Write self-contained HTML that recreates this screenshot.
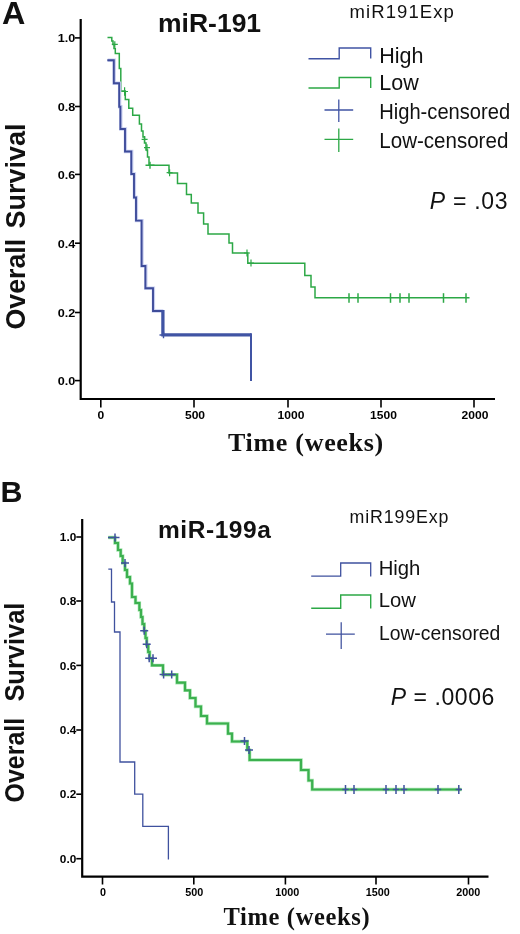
<!DOCTYPE html>
<html><head><meta charset="utf-8"><title>Survival</title>
<style>
html,body{margin:0;padding:0;background:#fff;}
body{width:520px;height:934px;overflow:hidden;font-family:"Liberation Sans",sans-serif;}
svg{display:block;will-change:transform;transform:translateZ(0);}
text{font-family:"Liberation Sans",sans-serif;fill:#111}
.serif{font-family:"Liberation Serif",serif;font-weight:bold}
.b{font-weight:bold}
.tk{font-weight:bold;fill:#000}
</style></head><body>
<svg width="520" height="934" viewBox="0 0 520 934">
<rect width="520" height="934" fill="#fff"/>

<g id="panelA">
<text transform="translate(1.9,24.3) scale(1.06,1)" class="b" font-size="30.5">A</text>
<text x="158" y="32" class="b" font-size="26.5">miR-191</text>
<text x="349.6" y="18.1" font-size="18.5" textLength="104.3" lengthAdjust="spacing">miR191Exp</text>
<path d="M308.5,58.7H339.2V48H370.7V58.5" stroke="#4054a4" stroke-width="1.4" fill="none"/>
<path d="M308.5,88H339.2V77.5H370.7V88" stroke="#2ca846" stroke-width="1.4" fill="none"/>
<path d="M324.5,110H353.2M338.8,99.5V122" stroke="#4054a4" stroke-width="1.3" fill="none"/>
<path d="M324.5,139.3H353.2M338.8,128.5V152" stroke="#2ca846" stroke-width="1.3" fill="none"/>
<text x="379.2" y="62.5" font-size="21.5">High</text>
<text x="379.3" y="90.4" font-size="21.5">Low</text>
<text x="379.2" y="119.3" font-size="21.5" textLength="131" lengthAdjust="spacingAndGlyphs">High-censored</text>
<text x="379.3" y="147.9" font-size="21.5" textLength="129" lengthAdjust="spacingAndGlyphs">Low-censored</text>
<text x="429.8" y="208.6" font-size="23" textLength="77.8" lengthAdjust="spacing"><tspan font-style="italic">P</tspan> = .03</text>
<text transform="translate(24.7,329.4) rotate(-90)" class="b" font-size="28.5" textLength="90.5" lengthAdjust="spacingAndGlyphs">Overall</text>
<text transform="translate(24.7,228.6) rotate(-90)" class="b" font-size="28.5" textLength="105" lengthAdjust="spacingAndGlyphs">Survival</text>
<path d="M80.7,19V399H495" stroke="#000" stroke-width="2.2" fill="none"/>
<path d="M75,37.9H80" stroke="#000" stroke-width="1.6"/>
<text transform="translate(75.4,42.3) scale(1.17,1)" text-anchor="end" class="tk" font-size="10.8">1.0</text>
<path d="M75,106.5H80" stroke="#000" stroke-width="1.6"/>
<text transform="translate(75.4,110.9) scale(1.17,1)" text-anchor="end" class="tk" font-size="10.8">0.8</text>
<path d="M75,174.4H80" stroke="#000" stroke-width="1.6"/>
<text transform="translate(75.4,178.8) scale(1.17,1)" text-anchor="end" class="tk" font-size="10.8">0.6</text>
<path d="M75,243.2H80" stroke="#000" stroke-width="1.6"/>
<text transform="translate(75.4,247.6) scale(1.17,1)" text-anchor="end" class="tk" font-size="10.8">0.4</text>
<path d="M75,312.5H80" stroke="#000" stroke-width="1.6"/>
<text transform="translate(75.4,316.9) scale(1.17,1)" text-anchor="end" class="tk" font-size="10.8">0.2</text>
<path d="M75,380.6H80" stroke="#000" stroke-width="1.6"/>
<text transform="translate(75.4,385.0) scale(1.17,1)" text-anchor="end" class="tk" font-size="10.8">0.0</text>
<path d="M100.8,399V407.5" stroke="#000" stroke-width="1.6"/>
<text transform="translate(100.8,419.2) scale(1.08,1)" text-anchor="middle" class="tk" font-size="11.2">0</text>
<path d="M194,399V407.5" stroke="#000" stroke-width="1.6"/>
<text transform="translate(195,419.2) scale(1.08,1)" text-anchor="middle" class="tk" font-size="11.2">500</text>
<path d="M288,399V407.5" stroke="#000" stroke-width="1.6"/>
<text transform="translate(291,419.2) scale(1.08,1)" text-anchor="middle" class="tk" font-size="11.2">1000</text>
<path d="M381,399V407.5" stroke="#000" stroke-width="1.6"/>
<text transform="translate(383.5,419.2) scale(1.08,1)" text-anchor="middle" class="tk" font-size="11.2">1500</text>
<path d="M474,399V407.5" stroke="#000" stroke-width="1.6"/>
<text transform="translate(475,419.2) scale(1.08,1)" text-anchor="middle" class="tk" font-size="11.2">2000</text>
<text x="228" y="451.3" class="serif" font-size="26" letter-spacing="0.7">Time (weeks)</text>
<path d="M107.5,37.6H111.8V41H113V44.5H114V48.5H115.3V53.4H119.3V68.5H120.8V91H125.3V99.5H128.8V108.3H132.7V115.2H139.4V124H141.5V131H143V137H144.5V143H146V150H147.5V157H149V165.3H169V173H177.5V183.6H186.5V194.5H191.3V203H198V213H203.6V224H208V234H229V243H232.5V253H247.8V263.3H304.8V275.5H311V287H315V297.8H469.5" stroke="#2ca846" stroke-width="1.5" fill="none"/>
<path d="M111.8,44.4H117.8M114.8,41.199999999999996V47.6" stroke="#2ca846" stroke-width="1.2" fill="none"/>
<path d="M121.19999999999999,91.5H128.0M124.6,87.3V95.7" stroke="#2ca846" stroke-width="1.2" fill="none"/>
<path d="M141.6,139.4H147.6M144.6,135.9V142.9" stroke="#2ca846" stroke-width="1.2" fill="none"/>
<path d="M144,147.7H150M147,144.2V151.2" stroke="#2ca846" stroke-width="1.2" fill="none"/>
<path d="M166.6,172.7H172.6M169.6,169.2V176.2" stroke="#2ca846" stroke-width="1.2" fill="none"/>
<path d="M244,253H250M247,249.5V256.5" stroke="#2ca846" stroke-width="1.2" fill="none"/>
<path d="M248,263H254M251,259.5V266.5" stroke="#2ca846" stroke-width="1.2" fill="none"/>
<path d="M145.5,165.3H154.5M150,161.8V168.8" stroke="#2ca846" stroke-width="1.4" fill="none"/>
<path d="M349,293.2V302.8" stroke="#2ca846" stroke-width="1.5"/>
<path d="M358,293.2V302.8" stroke="#2ca846" stroke-width="1.5"/>
<path d="M390.5,293.2V302.8" stroke="#2ca846" stroke-width="1.5"/>
<path d="M400,293.2V302.8" stroke="#2ca846" stroke-width="1.5"/>
<path d="M409,293.2V302.8" stroke="#2ca846" stroke-width="1.5"/>
<path d="M443.5,293.2V302.8" stroke="#2ca846" stroke-width="1.5"/>
<path d="M466,293.2V302.8" stroke="#2ca846" stroke-width="1.5"/>
<path d="M107.3,60.2H113.8V83.2H119.2V106.7H120.4V129H125V151.5H131.3V174H134V197.5H136V220.6H141.6V266H145.4V288.3H153V311H162.9" stroke="#c9cff0" stroke-width="3.4" fill="none" transform="translate(0.4,0)"/>
<path d="M107.3,60.2H113.8V83.2H119.2V106.7H120.4V129H125V151.5H131.3V174H134V197.5H136V220.6H141.6V266H145.4V288.3H153V311H162.9" stroke="#3e4c9a" stroke-width="1.9" fill="none"/>
<path d="M162.9,310V334.8H251" stroke="#4054a4" stroke-width="3.3" fill="none"/>
<path d="M251,333.2V381" stroke="#4054a4" stroke-width="2" fill="none"/>
<path d="M159.5,335H167.5M163.5,331.8V338.2" stroke="#4054a4" stroke-width="1.4" fill="none"/>
</g>
<g id="panelB">
<text x="0.4" y="501.7" class="b" font-size="30.4">B</text>
<text x="158" y="538" class="b" font-size="24.5" letter-spacing="0.55">miR-199a</text>
<text x="349.6" y="523" font-size="17.8" textLength="98.8" lengthAdjust="spacing">miR199Exp</text>
<path d="M311.2,576.2H340.7V563H370.7V576.6" stroke="#3f519e" stroke-width="1.3" fill="none"/>
<path d="M311.2,608.2H340.7V595H370.7V608.6" stroke="#2ca846" stroke-width="1.4" fill="none"/>
<path d="M326,634H354.8M341.2,622.3V649" stroke="#3f519e" stroke-width="1.25" fill="none"/>
<text x="378.7" y="575.2" font-size="20.3">High</text>
<text x="378.8" y="607.2" font-size="20.3">Low</text>
<text x="378.9" y="640.1" font-size="20.3" textLength="121.5" lengthAdjust="spacingAndGlyphs">Low-censored</text>
<text x="390.8" y="704.6" font-size="23" textLength="103.5" lengthAdjust="spacing"><tspan font-style="italic">P</tspan> = .0006</text>
<text transform="translate(24.4,802.4) rotate(-90)" class="b" font-size="27" textLength="84.5" lengthAdjust="spacingAndGlyphs">Overall</text>
<text transform="translate(24.4,701.6) rotate(-90)" class="b" font-size="27" textLength="99" lengthAdjust="spacingAndGlyphs">Survival</text>
<path d="M82.2,519V876.6H488.5" stroke="#000" stroke-width="2.2" fill="none"/>
<path d="M76.3,537H81.5" stroke="#000" stroke-width="1.6"/>
<text transform="translate(76.3,541.2) scale(1.15,1)" text-anchor="end" class="tk" font-size="10.3">1.0</text>
<path d="M76.3,601H81.5" stroke="#000" stroke-width="1.6"/>
<text transform="translate(76.3,605.2) scale(1.15,1)" text-anchor="end" class="tk" font-size="10.3">0.8</text>
<path d="M76.3,665.4H81.5" stroke="#000" stroke-width="1.6"/>
<text transform="translate(76.3,669.6) scale(1.15,1)" text-anchor="end" class="tk" font-size="10.3">0.6</text>
<path d="M76.3,730H81.5" stroke="#000" stroke-width="1.6"/>
<text transform="translate(76.3,734.2) scale(1.15,1)" text-anchor="end" class="tk" font-size="10.3">0.4</text>
<path d="M76.3,794.2H81.5" stroke="#000" stroke-width="1.6"/>
<text transform="translate(76.3,798.4000000000001) scale(1.15,1)" text-anchor="end" class="tk" font-size="10.3">0.2</text>
<path d="M76.3,858.7H81.5" stroke="#000" stroke-width="1.6"/>
<text transform="translate(76.3,862.9000000000001) scale(1.15,1)" text-anchor="end" class="tk" font-size="10.3">0.0</text>
<path d="M102.5,877V884.5" stroke="#000" stroke-width="1.6"/>
<text x="103" y="895.5" text-anchor="middle" class="tk" font-size="10.8">0</text>
<path d="M193.8,877V884.5" stroke="#000" stroke-width="1.6"/>
<text x="194.3" y="895.5" text-anchor="middle" class="tk" font-size="10.8">500</text>
<path d="M285.4,877V884.5" stroke="#000" stroke-width="1.6"/>
<text x="287.2" y="895.5" text-anchor="middle" class="tk" font-size="10.8">1000</text>
<path d="M376,877V884.5" stroke="#000" stroke-width="1.6"/>
<text x="377.7" y="895.5" text-anchor="middle" class="tk" font-size="10.8">1500</text>
<path d="M468.5,877V884.5" stroke="#000" stroke-width="1.6"/>
<text x="468.3" y="895.5" text-anchor="middle" class="tk" font-size="10.8">2000</text>
<text x="223.5" y="925" class="serif" font-size="24.5" letter-spacing="0.65">Time (weeks)</text>
<path d="M108.3,537.5H115V543H118V550H120.7V556H122.7V563H125V570H127V577H130V583.5H132V597H135.5V603H139.4V610H141V617H142.5V624H144.2V631H145.5V638H146.7V645H148.2V652H149.6V658.5H152V665.4H163V674.7H177V682.7H185V690.4H190V698H195.5V706.5H201V716H207V723.5H228V733.6H232V741.5H247.3V750H249.6V760H301V770H308.5V780.5H312.2V789.5H461.5" stroke="#a8e6b3" stroke-width="3.4" fill="none"/>
<path d="M108.3,537.5H115V543H118V550H120.7V556H122.7V563H125V570H127V577H130V583.5H132V597H135.5V603H139.4V610H141V617H142.5V624H144.2V631H145.5V638H146.7V645H148.2V652H149.6V658.5H152V665.4H163V674.7H177V682.7H185V690.4H190V698H195.5V706.5H201V716H207V723.5H228V733.6H232V741.5H247.3V750H249.6V760H301V770H308.5V780.5H312.2V789.5H461.5" stroke="#3cb04f" stroke-width="2.2" fill="none"/>
<path d="M108,537.5H119.5M115,533.5V541.5" stroke="#3f519e" stroke-width="1.5" fill="none"/>
<path d="M121,563H129M125,559V567" stroke="#3f519e" stroke-width="1.5" fill="none"/>
<path d="M140.2,630.8H148.2M144.2,626.8V634.8" stroke="#3f519e" stroke-width="1.5" fill="none"/>
<path d="M142.7,644.2H150.7M146.7,640.2V648.2" stroke="#3f519e" stroke-width="1.5" fill="none"/>
<path d="M145.2,658.3H153.2M149.2,654.3V662.3" stroke="#3f519e" stroke-width="1.5" fill="none"/>
<path d="M149,658.3H157M153,654.3V662.3" stroke="#3f519e" stroke-width="1.5" fill="none"/>
<path d="M159.6,674.5H167.6M163.6,670.5V678.5" stroke="#3f519e" stroke-width="1.5" fill="none"/>
<path d="M167.7,674.5H175.7M171.7,670.5V678.5" stroke="#3f519e" stroke-width="1.5" fill="none"/>
<path d="M240.5,741H248.5M244.5,737V745" stroke="#3f519e" stroke-width="1.5" fill="none"/>
<path d="M245,750H253M249,746V754" stroke="#3f519e" stroke-width="1.5" fill="none"/>
<path d="M342.3,789.5H348.7M345.5,785.0V794.0" stroke="#3f519e" stroke-width="1.5" fill="none"/>
<path d="M350.8,789.5H357.2M354,785.0V794.0" stroke="#3f519e" stroke-width="1.5" fill="none"/>
<path d="M382.8,789.5H389.2M386,785.0V794.0" stroke="#3f519e" stroke-width="1.5" fill="none"/>
<path d="M392.8,789.5H399.2M396,785.0V794.0" stroke="#3f519e" stroke-width="1.5" fill="none"/>
<path d="M400.8,789.5H407.2M404,785.0V794.0" stroke="#3f519e" stroke-width="1.5" fill="none"/>
<path d="M434.8,789.5H441.2M438,785.0V794.0" stroke="#3f519e" stroke-width="1.5" fill="none"/>
<path d="M455.6,789.5H462.0M458.8,785.0V794.0" stroke="#3f519e" stroke-width="1.5" fill="none"/>
<path d="M108.3,569.2H111.5V602H114.5V632H120V762H134.7V794.2H142.8V826.3H168.4V859.5" stroke="#3f519e" stroke-width="1.3" fill="none"/>
</g>
</svg></body></html>
